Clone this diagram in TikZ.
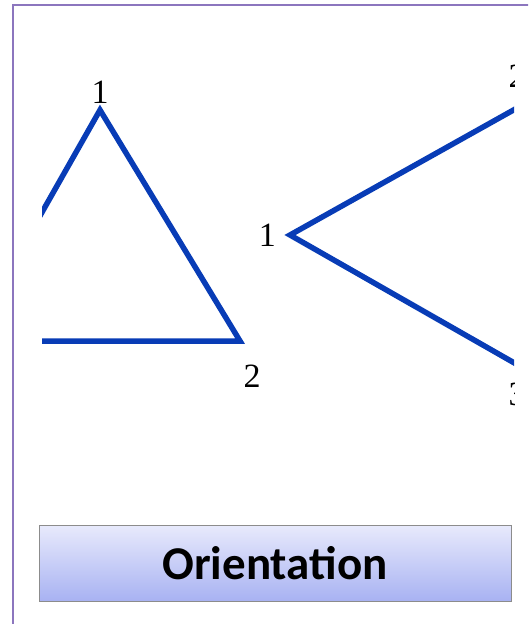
\documentclass[tikz,border=0pt]{standalone}
\usepackage{fontspec}
\setmainfont{Liberation Serif}
\newfontfamily\boxfont{Carlito}
\usetikzlibrary{positioning}
\definecolor{framecol}{RGB}{140,118,190}
\definecolor{edgecol}{RGB}{8,60,182}
\definecolor{boxtop}{RGB}{232,234,252}
\definecolor{boxbot}{RGB}{168,178,242}

\begin{document}
\begin{tikzpicture}[
  x=1pt, y=-1pt,
  edge/.style={draw=edgecol, line width=5.5pt, line join=miter},
  num/.style={font=\fontsize{34}{34}\selectfont, inner sep=0pt},
  title/.style={
    rectangle, draw=black!45, line width=1pt,
    top color=boxtop, bottom color=boxbot,
    minimum width=472pt, minimum height=76pt,
    font=\boxfont\bfseries\fontsize{47}{52}\selectfont
  }
]
\useasboundingbox (0,0) rectangle (528,624);
\clip (0,0) rectangle (528,624);

% frame, cut at right and bottom
\draw[framecol, line width=2.5pt] (13,5) rectangle (560,660);

\begin{scope}
  \clip (42,0) rectangle (514,470);
  % left triangle
  \coordinate (ta) at (100,110);
  \coordinate (tb) at (240,341);
  \coordinate (tc) at (-31,341);
  \draw[edge] (tc) -- (ta) -- (tb) -- cycle;
  \node[num, above=6pt of ta] (la) {1};
  \node[num] (lb) at (252,376) {2};
  % right triangle
  \coordinate (ra) at (290,235);
  \coordinate (rb) at (560,84);
  \coordinate (rc) at (560,389);
  \draw[edge] (rb) -- (ra) -- (rc);
  \node[num, left=14pt of ra] (lra) {1};
  \node[num] (lrb) at (517,76) {2};
  \node[num] (lrc) at (517,394) {3};
\end{scope}

\node[title] (orient) at (275,563) {Orientation};
\end{tikzpicture}
\end{document}
